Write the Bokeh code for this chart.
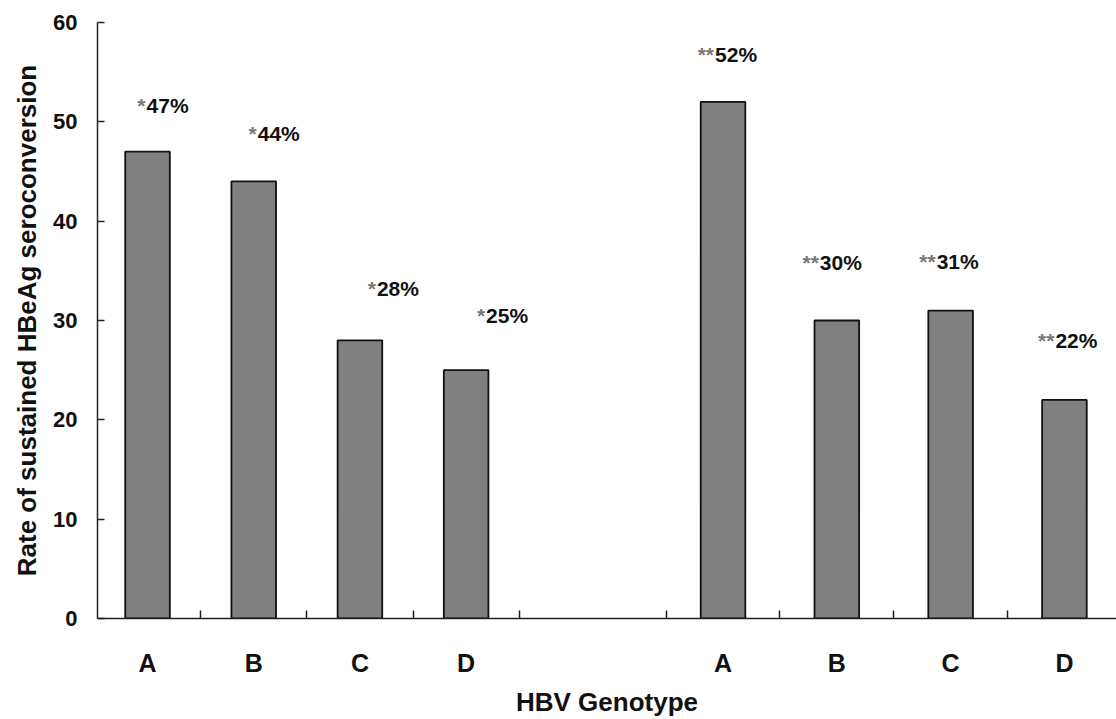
import numpy as np
from bokeh.plotting import figure
from bokeh.models import ColumnDataSource, FixedTicker, Range1d
from bokeh.core.properties import value
from bokeh.embed import file_html
from bokeh.resources import INLINE

# ---- data ----
genotypes = ["A", "B", "C", "D"]
group1_rates = [47, 44, 28, 25]
group2_rates = [52, 30, 31, 22]
group1_mark = "*"
group2_mark = "**"
y_ticks = [0, 10, 20, 30, 40, 50, 60]
x_title = "HBV Genotype"
y_title = "Rate of sustained HBeAg seroconversion"

# ---- layout (slot units on the x axis) ----
start1, step1 = 1.0, 1.0
start2, step2 = 6.419, 1.0716
idx = np.arange(len(genotypes))
x1 = start1 + step1 * idx
x2 = start2 + step2 * idx
xs = np.concatenate([x1, x2])
mids = np.concatenate([x1 + step1 / 2, x2 - step2 / 2])

# label nudges in screen pixels (hand placed annotations)
label_dx = [-1, 4, 17, 20, -8, -17, -14, -9]
label_dy = [-46, -48, -52, -55, -47, -58, -49, -59]

rates = list(group1_rates) + list(group2_rates)
src = ColumnDataSource(dict(
    x=xs,
    rate=rates,
    mark=[group1_mark] * len(group1_rates) + [group2_mark] * len(group2_rates),
    pct=[f"{v}%" for v in rates],
    dx=label_dx,
    dxm=[d - 1 for d in label_dx],
    dy=label_dy,
))

FONT = "Liberation Sans"

p = figure(width=1116, height=719, title=None,
           x_range=Range1d(0.529, 10.124), y_range=Range1d(0, 60),
           output_backend="svg", toolbar_location=None,
           min_border_left=97, min_border_right=0,
           min_border_top=22, min_border_bottom=101)
p.xgrid.visible = False
p.ygrid.visible = False
p.outline_line_color = None
p.background_fill_color = "white"
p.border_fill_color = "white"

p.vbar(x="x", top="rate", width=0.42, source=src,
       fill_color="#808080", line_color="#111111", line_width=1.8)

p.text(x="x", y="rate", text="mark", x_offset="dxm", y_offset="dy", source=src,
       text_align="right", text_baseline="middle",
       text_font=value(FONT), text_font_style="bold", text_font_size="21px",
       text_color="#777777")
p.text(x="x", y="rate", text="pct", x_offset="dx", y_offset="dy", source=src,
       text_align="left", text_baseline="middle",
       text_font=value(FONT), text_font_style="bold", text_font_size="21px",
       text_color="#111111")

# x axis
xa = p.xaxis[0]
xa.ticker = FixedTicker(ticks=list(map(float, xs)), minor_ticks=list(map(float, mids)))
xa.major_label_overrides = {float(x): g for x, g in zip(xs, genotypes * 2)}
xa.major_tick_in = 0
xa.major_tick_out = 0
xa.minor_tick_in = 8
xa.minor_tick_out = 0
xa.minor_tick_line_color = "#222222"
xa.minor_tick_line_width = 1.5
xa.axis_line_color = "#222222"
xa.axis_line_width = 1.5
xa.major_label_standoff = 30
xa.major_label_text_font = FONT
xa.major_label_text_font_style = "bold"
xa.major_label_text_font_size = "25px"
xa.major_label_text_color = "#111111"
xa.axis_label = x_title
xa.axis_label_standoff = 7
xa.axis_label_text_font = FONT
xa.axis_label_text_font_style = "bold"
xa.axis_label_text_font_size = "26px"
xa.axis_label_text_color = "#111111"

# y axis
ya = p.yaxis[0]
ya.ticker = FixedTicker(ticks=y_ticks, minor_ticks=[])
ya.major_tick_in = 7
ya.major_tick_out = 0
ya.major_tick_line_color = "#222222"
ya.major_tick_line_width = 1.5
ya.axis_line_color = "#222222"
ya.axis_line_width = 1.5
ya.major_label_standoff = 20
ya.major_label_text_font = FONT
ya.major_label_text_font_style = "bold"
ya.major_label_text_font_size = "22px"
ya.major_label_text_color = "#111111"
ya.axis_label = y_title
ya.axis_label_standoff = 8
ya.axis_label_text_font = FONT
ya.axis_label_text_font_style = "bold"
ya.axis_label_text_font_size = "26px"
ya.axis_label_text_color = "#111111"

open("out.html", "w").write(file_html(p, INLINE))
